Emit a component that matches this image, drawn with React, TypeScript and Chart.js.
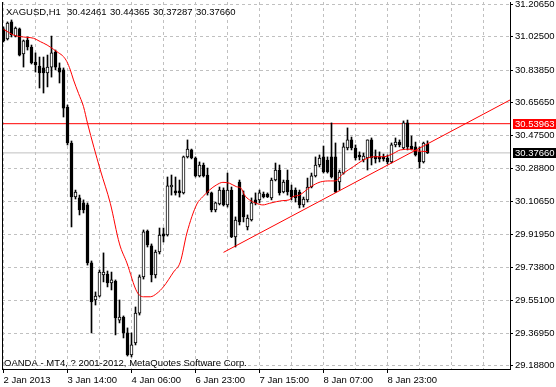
import React, { useEffect, useRef } from "react";
import { Chart, registerables } from "chart.js";

Chart.register(...registerables);

const SYMBOL = "XAGUSD,H1";
const COPYRIGHT = "OANDA - MT4, ? 2001-2012, MetaQuotes Software Corp.";

const opens = [
  31.069, 31.013, 31.108, 31.029, 31.069, 30.929, 31.007, 30.968, 30.884, 30.862,
  30.851, 30.823, 30.856, 30.94, 30.851, 30.84, 30.633, 30.432, 30.13, 30.125,
  30.097, 30.086, 29.762, 29.555, 29.577, 29.695, 29.7, 29.65, 29.661, 29.443,
  29.46, 29.371, 29.248, 29.315, 29.482, 29.684, 29.94, 29.857, 29.695, 29.823,
  29.924, 29.918, 30.186, 30.164, 30.164, 30.153, 30.354, 30.393, 30.348, 30.248,
  30.309, 30.253, 30.153, 30.058, 30.091, 30.169, 30.086, 30.169, 29.907, 30.214,
  30.141, 29.963, 30.002, 30.114, 30.114, 30.147, 30.147, 30.125, 30.225, 30.281,
  30.158, 30.225, 30.169, 30.169, 30.158, 30.086, 30.114, 30.186, 30.248, 30.309,
  30.354, 30.337, 30.354, 30.354, 30.214, 30.264, 30.404, 30.449, 30.404, 30.365,
  30.337, 30.348, 30.449, 30.359, 30.354, 30.354, 30.348, 30.326, 30.421, 30.437,
  30.404, 30.544, 30.415, 30.41, 30.382, 30.326, 30.42461,
];
const highs = [
  31.08, 31.108, 31.119, 31.08, 31.074, 31.007, 31.024, 30.979, 30.935, 30.912,
  30.912, 30.923, 31.029, 30.951, 30.879, 30.851, 30.644, 30.443, 30.169, 30.141,
  30.114, 30.097, 29.773, 29.6, 29.723, 29.818, 29.717, 29.711, 29.667, 29.555,
  29.466, 29.399, 29.371, 29.516, 29.695, 29.946, 29.946, 29.868, 29.834, 29.957,
  29.957, 30.242, 30.253, 30.242, 30.225, 30.359, 30.449, 30.398, 30.354, 30.326,
  30.32, 30.292, 30.158, 30.102, 30.186, 30.181, 30.264, 30.186, 30.019, 30.225,
  30.164, 30.03, 30.125, 30.153, 30.169, 30.158, 30.153, 30.236, 30.32, 30.309,
  30.225, 30.281, 30.197, 30.181, 30.169, 30.13, 30.236, 30.264, 30.354, 30.365,
  30.415, 30.354, 30.544, 30.432, 30.281, 30.432, 30.516, 30.465, 30.421, 30.382,
  30.376, 30.449, 30.46, 30.393, 30.382, 30.37, 30.365, 30.432, 30.46, 30.449,
  30.555, 30.56, 30.471, 30.437, 30.41, 30.437, 30.44365,
];
const lows = [
  30.996, 31.007, 31.024, 31.024, 30.918, 30.856, 30.951, 30.873, 30.828, 30.739,
  30.711, 30.745, 30.8, 30.84, 30.767, 30.577, 30.421, 29.963, 30.119, 30.03,
  30.041, 29.75, 29.371, 29.527, 29.572, 29.656, 29.628, 29.611, 29.36, 29.427,
  29.343, 29.242, 29.237, 29.304, 29.471, 29.672, 29.851, 29.656, 29.678, 29.812,
  29.879, 29.912, 30.141, 30.141, 30.13, 30.147, 30.348, 30.343, 30.242, 30.242,
  30.242, 30.141, 30.047, 30.047, 30.086, 30.08, 30.074, 29.903, 29.851, 29.974,
  29.991, 29.946, 29.996, 30.086, 30.097, 30.125, 30.127, 30.114, 30.22, 30.141,
  30.153, 30.141, 30.114, 30.102, 30.069, 30.074, 30.102, 30.181, 30.242, 30.298,
  30.264, 30.264, 30.236, 30.155, 30.169, 30.258, 30.393, 30.393, 30.337, 30.337,
  30.326, 30.281, 30.309, 30.32, 30.326, 30.331, 30.315, 30.32, 30.41, 30.41,
  30.398, 30.393, 30.393, 30.359, 30.292, 30.32, 30.37287,
];
const closes = [
  31.002, 31.102, 31.035, 31.074, 30.923, 31.002, 30.968, 30.879, 30.868, 30.823,
  30.823, 30.856, 30.935, 30.856, 30.828, 30.627, 30.432, 30.13, 30.158, 30.058,
  30.058, 29.762, 29.544, 29.577, 29.711, 29.711, 29.65, 29.667, 29.455, 29.46,
  29.371, 29.248, 29.304, 29.482, 29.684, 29.935, 29.862, 29.695, 29.823, 29.918,
  29.912, 30.192, 30.197, 30.153, 30.153, 30.354, 30.398, 30.348, 30.248, 30.309,
  30.248, 30.153, 30.058, 30.097, 30.169, 30.086, 30.169, 29.907, 30.002, 29.991,
  30.019, 30.013, 30.097, 30.097, 30.153, 30.13, 30.13, 30.225, 30.281, 30.153,
  30.214, 30.158, 30.13, 30.125, 30.086, 30.119, 30.186, 30.248, 30.309, 30.348,
  30.27, 30.27, 30.242, 30.158, 30.27, 30.41, 30.449, 30.404, 30.348, 30.354,
  30.359, 30.449, 30.348, 30.343, 30.343, 30.343, 30.326, 30.421, 30.437, 30.421,
  30.544, 30.41, 30.398, 30.365, 30.326, 30.432, 30.3766,
];

// Moving average
const maBars = [
  0, 2.5, 4.2, 5.8, 7.5, 9.2, 10.9, 12.5, 13.75, 15, 15.85, 16.7, 17.5, 18.75, 20, 21,
  24.2, 26.7, 29, 30.85, 33.35, 35, 36.7, 38.35, 40, 42.5, 44.2, 45.85, 48.35, 49.85,
  51.5, 53.2, 54.85, 56.5, 58.2, 59.4, 60.25, 61.5, 63.2, 64.85, 66.5, 68.2, 69.85,
  71.4, 72.35, 74, 76.7, 79.2, 81.7, 82.9, 85, 87.5, 90, 92.5, 95, 97.5, 99.2, 101.7,
  102.9, 106,
];
const maValues = [
  31.067, 31.035, 31.026, 31.022, 31.017, 30.998, 30.979, 30.955, 30.936, 30.914, 30.886,
  30.84, 30.784, 30.709, 30.635, 30.542, 30.281, 30.095, 29.868, 29.762, 29.601, 29.573,
  29.573, 29.592, 29.629, 29.711, 29.767, 29.929, 30.091, 30.132, 30.169, 30.197, 30.212,
  30.207, 30.188, 30.179, 30.141, 30.114, 30.095, 30.086, 30.095, 30.104, 30.11, 30.114,
  30.132, 30.141, 30.186, 30.214, 30.22, 30.22, 30.263, 30.3, 30.337, 30.355, 30.355,
  30.374, 30.393, 30.397, 30.389, 30.384,
];

const trendBars = [55, 126.625];
const trendValues = [29.821, 30.672];

const resistanceLevel = 30.53963;
const bidPrice = 30.3766;

const yTickValues = [
  29.188, 29.3695, 29.551, 29.738, 29.9195, 30.1065, 30.288, 30.475, 30.6565, 30.8385,
  31.025, 31.2065,
];
const xGridBars = [0, 8, 16, 24, 32, 40, 48, 56, 64, 72, 80, 88, 96, 104, 112, 120];
const xLabelBars = [0, 16, 32, 48, 64, 80, 96];
const xLabels = [
  "2 Jan 2013",
  "3 Jan 14:00",
  "4 Jan 06:00",
  "6 Jan 23:00",
  "7 Jan 15:00",
  "8 Jan 07:00",
  "8 Jan 23:00",
];

const X_MIN = -0.375;
const X_MAX = 126.625;
const Y_MIN = 29.1696;
const Y_MAX = 31.2193;

const FONT_FAMILY = "'Liberation Sans', Arial, sans-serif";
const FONT_SIZE = 9.5;
const GRID_COLOR = "#c0c0c0";

export default function App() {
  const ref = useRef<HTMLCanvasElement | null>(null);

  useEffect(() => {
    const canvas = ref.current;
    if (!canvas) return;
    const idx = opens.map((_, i) => i);
    const bull = idx.map((i) => closes[i] >= opens[i]);
    const last = opens.length - 1;
    const ohlc = [opens[last], highs[last], lows[last], closes[last]];

    const overlay = {
      id: "overlay",
      beforeDatasetsDraw(chart: any) {
        const ctx = chart.ctx;
        ctx.save();
        ctx.font = `${FONT_SIZE}px ${FONT_FAMILY}`;
        ctx.fillStyle = "#000";
        ctx.textBaseline = "alphabetic";
        ctx.textAlign = "left";
        ctx.fillText(SYMBOL, 6, 15);
        ohlc.forEach((v, i) => ctx.fillText(v.toFixed(5), 67 + 43 * i, 15));
        ctx.fillText(COPYRIGHT, 4, 366);
        ctx.restore();
      },
      afterDraw(chart: any) {
        const ctx = chart.ctx;
        const area = chart.chartArea;
        const ys = chart.scales.y;
        ctx.save();
        ctx.strokeStyle = "#000";
        ctx.lineWidth = 1;
        ctx.beginPath();
        ctx.moveTo(area.left + 0.5, area.top);
        ctx.lineTo(area.left + 0.5, area.bottom);
        ctx.stroke();
        ctx.font = `${FONT_SIZE}px ${FONT_FAMILY}`;
        ctx.textBaseline = "middle";
        ctx.textAlign = "left";
        const boxes: [number, string][] = [
          [resistanceLevel, "#ff0000"],
          [bidPrice, "#000000"],
        ];
        boxes.forEach(([v, c]) => {
          const y = ys.getPixelForValue(v);
          ctx.fillStyle = c;
          ctx.fillRect(area.right + 3, Math.round(y) - 5, 43, 10);
          ctx.fillStyle = "#fff";
          ctx.fillText(v.toFixed(5), area.right + 5, Math.round(y) + 0.5);
        });
        ctx.restore();
      },
    };

    const chart = new Chart(canvas, {
      type: "bar",
      data: {
        datasets: [
          {
            type: "line",
            data: maBars.map((b, i) => ({ x: b, y: maValues[i] })),
            borderColor: "#ff0000",
            borderWidth: 1,
            pointRadius: 0,
            cubicInterpolationMode: "monotone",
            order: 0,
          } as any,
          {
            type: "line",
            data: trendBars.map((b, i) => ({ x: b, y: trendValues[i] })),
            borderColor: "#ff0000",
            borderWidth: 1,
            pointRadius: 0,
            order: 0,
          } as any,
          {
            type: "line",
            data: [
              { x: X_MIN, y: resistanceLevel },
              { x: X_MAX, y: resistanceLevel },
            ],
            borderColor: "#ff0000",
            borderWidth: 1,
            pointRadius: 0,
            order: 4,
          } as any,
          {
            type: "line",
            data: [
              { x: X_MIN, y: bidPrice },
              { x: X_MAX, y: bidPrice },
            ],
            borderColor: GRID_COLOR,
            borderWidth: 1,
            pointRadius: 0,
            order: 5,
          } as any,
          {
            type: "bar",
            data: idx.map((i) => ({ x: i, y: [opens[i], closes[i]] })),
            backgroundColor: idx.map((i) => (bull[i] ? "#ffffff" : "#000000")),
            borderColor: "#000000",
            borderWidth: 1,
            borderSkipped: false,
            barThickness: 3,
            grouped: false,
            order: 1,
          } as any,
          {
            type: "bar",
            data: idx.map((i) => ({ x: i, y: [lows[i], highs[i]] })),
            backgroundColor: "#000000",
            borderWidth: 0,
            barThickness: 1,
            grouped: false,
            order: 2,
          } as any,
        ],
      },
      options: {
        responsive: false,
        animation: false,
        devicePixelRatio: 1,
        layout: { padding: { left: 2, top: 2, right: 0, bottom: 0 } },
        plugins: { legend: { display: false }, tooltip: { enabled: false } },
        scales: {
          x: {
            type: "linear",
            position: "bottom",
            min: X_MIN,
            max: X_MAX,
            offset: false,
            afterBuildTicks: (s: any) => {
              s.ticks = xGridBars.map((v) => ({ value: v }));
            },
            afterFit: (s: any) => {
              s.height = 18;
              s.paddingLeft = 0;
              s.paddingRight = 0;
            },
            ticks: {
              autoSkip: false,
              maxRotation: 0,
              minRotation: 0,
              align: "start",
              padding: 2,
              color: "#000",
              font: { family: FONT_FAMILY, size: FONT_SIZE },
              callback: (v: any) => {
                const k = xLabelBars.indexOf(Number(v));
                return k >= 0 ? xLabels[k] : "";
              },
            },
            grid: {
              offset: false,
              color: GRID_COLOR,
              lineWidth: 1,
              tickLength: 4,
              tickBorderDash: [],
              tickColor: (ctx: any) =>
                ctx.tick && xLabelBars.indexOf(ctx.tick.value) >= 0 ? "#000" : "rgba(0,0,0,0)",
            },
            border: { display: true, color: "#000", width: 1, dash: [3, 3] },
          } as any,
          y: {
            type: "linear",
            position: "right",
            min: Y_MIN,
            max: Y_MAX,
            afterBuildTicks: (s: any) => {
              s.ticks = yTickValues.map((v) => ({ value: v }));
            },
            afterFit: (s: any) => {
              s.width = 46;
              s.paddingTop = 0;
              s.paddingBottom = 0;
            },
            ticks: {
              autoSkip: false,
              padding: 2,
              color: "#000",
              font: { family: FONT_FAMILY, size: FONT_SIZE },
              callback: (v: any) => Number(v).toFixed(5),
            },
            grid: {
              color: GRID_COLOR,
              lineWidth: 1,
              tickLength: 3,
              tickBorderDash: [],
              tickColor: "#000",
            },
            border: { display: true, color: "#000", width: 1, dash: [3, 3] },
          } as any,
        },
      },
      plugins: [overlay],
    } as any);

    return () => chart.destroy();
  }, []);

  return (
    <div style={{ position: "absolute", left: 0, top: 0, width: 556, height: 387, background: "#fff" }}>
      <canvas ref={ref} width={556} height={387} style={{ display: "block", width: 556, height: 387 }} />
    </div>
  );
}
